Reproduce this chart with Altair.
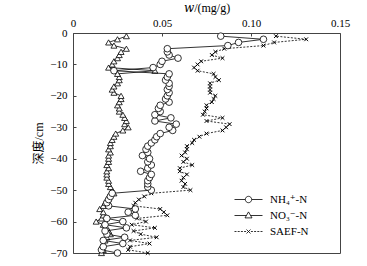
import altair as alt
import pandas as pd

depth = [-1, -2, -3, -4, -5, -6, -7, -8, -9, -10,
         -11, -12, -13, -14, -15, -16, -17, -18, -19, -20,
         -21, -22, -23, -24, -25, -26, -27, -28, -29, -30,
         -31, -32, -33, -34, -35, -36, -37, -38, -39, -40,
         -41, -42, -43, -44, -45, -46, -47, -48, -49, -50,
         -51, -52, -53, -54, -55, -56, -57, -58, -59, -60,
         -61, -62, -63, -64, -65, -66, -67, -68, -69, -70]

nh4 = [0.083, 0.107, 0.093, 0.087, 0.053, 0.053, 0.054, 0.059, 0.050, 0.049,
       0.045, 0.023, 0.054, 0.053, 0.052, 0.054, 0.054, 0.053, 0.054, 0.053,
       0.052, 0.054, 0.049, 0.048, 0.049, 0.046, 0.055, 0.046, 0.058, 0.054,
       0.056, 0.049, 0.047, 0.046, 0.044, 0.042, 0.041, 0.042, 0.039, 0.043,
       0.042, 0.044, 0.042, 0.038, 0.044, 0.043, 0.042, 0.042, 0.042, 0.044,
       0.022, 0.021, 0.020, 0.019, 0.020, 0.035, 0.031, 0.035, 0.019, 0.028,
       0.018, 0.030, 0.018, 0.019, 0.029, 0.017, 0.028, 0.017, 0.016, 0.025]

no3 = [0.030, 0.025, 0.020, 0.023, 0.030, 0.027, 0.026, 0.025, 0.023, 0.022,
       0.020, 0.046, 0.025, 0.026, 0.026, 0.025, 0.023, 0.022, 0.023, 0.027,
       0.027, 0.026, 0.025, 0.026, 0.026, 0.028, 0.029, 0.030, 0.029, 0.031,
       0.028, 0.024, 0.023, 0.022, 0.021, 0.021, 0.020, 0.021, 0.020, 0.020,
       0.020, 0.019, 0.020, 0.019, 0.019, 0.019, 0.020, 0.020, 0.021, 0.022,
       0.023, 0.020, 0.019, 0.018, 0.017, 0.015, 0.017, 0.017, 0.016, 0.013,
       0.017, 0.019, 0.020, 0.021, 0.019, 0.018, 0.017, 0.016, 0.017, 0.016]

saef = [0.114, 0.131, 0.113, 0.107, 0.085, 0.080, 0.078, 0.084, 0.072, 0.070,
        0.068, 0.070, 0.079, 0.080, 0.082, 0.077, 0.077, 0.077, 0.077, 0.080,
        0.079, 0.078, 0.075, 0.075, 0.074, 0.073, 0.084, 0.075, 0.088, 0.086,
        0.084, 0.075, 0.071, 0.068, 0.067, 0.064, 0.064, 0.063, 0.061, 0.064,
        0.062, 0.067, 0.060, 0.060, 0.064, 0.062, 0.061, 0.063, 0.062, 0.066,
        0.044, 0.040, 0.037, 0.035, 0.034, 0.049, 0.051, 0.053, 0.036, 0.041,
        0.033, 0.046, 0.034, 0.038, 0.047, 0.032, 0.043, 0.032, 0.031, 0.042]

series_names = ["NH₄⁺-N", "NO₃⁻-N", "SAEF-N"]
x_ticks = [0, 0.05, 0.10, 0.15]
y_ticks = [0, -10, -20, -30, -40, -50, -60, -70]

df = pd.DataFrame({
    "depth": depth * 3,
    "value": nh4 + no3 + saef,
    "series": [series_names[0]] * len(nh4) + [series_names[1]] * len(no3) + [series_names[2]] * len(saef),
})

SERIF = "Liberation Serif, DejaVu Serif, Noto Sans CJK SC"

x_enc = alt.X("value:Q",
              scale=alt.Scale(domain=[0, 0.15], nice=False, zero=False),
              axis=alt.Axis(orient="top", values=x_ticks,
                            labelExpr="datum.value == 0 ? '0' : format(datum.value, '.2f')",
                            title="𝑤/(mg/g)", grid=False, domain=False, labelOverlap=False,
                            labelFlush=False,
                            tickSize=3, offset=-3, labelPadding=5, titlePadding=3))
y_enc = alt.Y("depth:Q",
              scale=alt.Scale(domain=[-70, 0], nice=False, zero=False),
              axis=alt.Axis(values=y_ticks, title="深度/cm", grid=False, domain=False,
                            labelOverlap=False, labelFlush=False,
                            tickSize=3, offset=-3, labelPadding=6, titlePadding=4))

base = alt.Chart(df).encode(x=x_enc, y=y_enc, order=alt.Order("depth:Q"))

def sel(name):
    return alt.datum.series == name

saef_line = base.transform_filter(sel(series_names[2])).mark_line(
    color="black", strokeWidth=0.8, strokeDash=[2, 1.5])
saef_pts = base.transform_filter(sel(series_names[2])).mark_point(
    shape="M-1,-1L1,1M-1,1L1,-1", size=14, filled=False, stroke="black",
    strokeWidth=1, opacity=1)

no3_line = base.transform_filter(sel(series_names[1])).mark_line(
    color="black", strokeWidth=0.8)
no3_pts = base.transform_filter(sel(series_names[1])).mark_point(
    shape="triangle-up", size=36, filled=True, fill="white", stroke="black",
    strokeWidth=0.8, opacity=1)

nh4_line = base.transform_filter(sel(series_names[0])).mark_line(
    color="black", strokeWidth=0.8)
nh4_pts = base.transform_filter(sel(series_names[0])).mark_point(
    shape="circle", size=44, filled=True, fill="white", stroke="black",
    strokeWidth=0.8, opacity=1)

legend_paths = [
    "M-7,0L-1.6,0M1.6,0L7,0M1.6,0A1.6,1.6,0,1,1,-1.6,0A1.6,1.6,0,1,1,1.6,0Z",
    "M-7,0L-1.05,0M1.05,0L7,0M0,-1.8L1.75,1.2L-1.75,1.2Z",
    "M-7,0L-6,0M-5.4,0L-4.4,0M-3.8,0L-2.8,0M-2.2,0L-1.2,0M1.2,0L2.2,0M2.8,0L3.8,0M4.4,0L5.4,0M6,0L7,0M-1,-1L1,1M-1,1L1,-1",
]

legend_layer = alt.Chart(df).transform_filter("false").mark_point(
    filled=False, color="black", strokeWidth=0.8, opacity=1
).encode(
    x=x_enc, y=y_enc,
    shape=alt.Shape("series:N",
                    scale=alt.Scale(domain=series_names, range=legend_paths),
                    legend=alt.Legend(title=None, orient="none", legendX=170, legendY=161,
                                      symbolSize=16, symbolStrokeWidth=0.8,
                                      symbolStrokeColor="black", symbolOpacity=1,
                                      labelFont=SERIF, labelFontSize=11, labelColor="black",
                                      labelOffset=16, rowPadding=4, padding=0))
)

chart = alt.layer(
    saef_line, saef_pts, no3_line, no3_pts, nh4_line, nh4_pts, legend_layer
).properties(
    width=267, height=220,
    padding={"left": 73, "top": 33, "right": 27, "bottom": 13},
    autosize=alt.AutoSizeParams(type="none"),
    background="white",
).configure_view(
    stroke="#444", strokeWidth=1
).configure_axis(
    labelFont=SERIF, titleFont=SERIF, labelFontSize=11, titleFontSize=12,
    titleFontWeight="normal", labelColor="black", titleColor="black",
    tickColor="#444", tickWidth=1, labelOverlap=False
)

chart.save("out.html", embed_options={"renderer": "svg", "actions": False})
